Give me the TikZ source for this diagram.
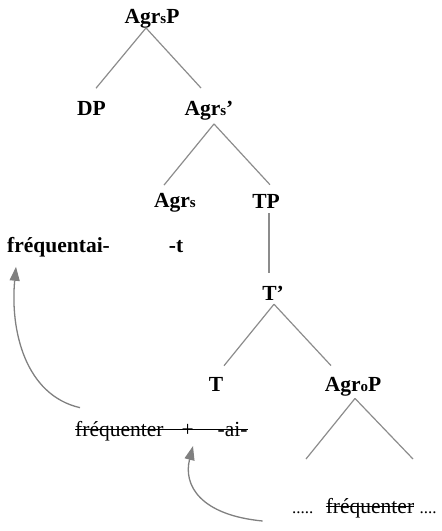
\documentclass[tikz,border=0pt]{standalone}
\usepackage{fontspec}
\setmainfont{Liberation Serif}
\usetikzlibrary{arrows.meta,positioning}
\newcommand{\agrsub}[1]{\raisebox{-0.5pt}{\fontsize{15}{15}\selectfont #1}}
\tikzset{
  lab/.style={font=\fontsize{21.5}{24}\selectfont\bfseries, inner sep=0pt, anchor=base},
  low/.style={font=\fontsize{21.5}{24}\selectfont, inner sep=0pt},
  dots/.style={font=\fontsize{17}{18}\selectfont, inner sep=0pt},
  branch/.style={draw=black!45, line width=1.2pt},
  strike/.style={draw=black, line width=0.9pt},
  move/.style={draw=black!50, line width=1.3pt, -{Triangle[length=14pt,width=10pt]}}
}
\begin{document}
\begin{tikzpicture}[x=1pt,y=-1pt]
  \useasboundingbox (0,0) rectangle (442,531);
  \node[lab] (agrsp) at (152,23) {Agr\agrsub{s}P};
  \node[lab] (dp) at (91.5,115) {DP};
  \node[lab] (agrsbar) at (209,115) {Agr\agrsub{s}'};
  \node[lab] (agrs) at (175,207) {Agr\agrsub{s}};
  \node[lab] (tp) at (266,208) {TP};
  \node[lab, anchor=base west] (fretai) at (7,252) {fréquentai-};
  \node[lab] (agrt) at (176,252) {-t};
  \node[lab] (tbar) at (273,300) {T'};
  \node[lab] (t) at (216,391) {T};
  \node[lab] (agrop) at (353,391) {Agr\agrsub{o}P};
  \coordinate (spec) at (306,459);
  \coordinate (comp) at (413,459);
  \draw[branch] ([xshift=-6pt]agrsp.south) -- ([xshift=4.5pt,yshift=12.5pt]dp.north);
  \draw[branch] ([xshift=-6pt]agrsp.south) -- ([xshift=-8pt,yshift=12.5pt]agrsbar.north);
  \draw[branch] ([xshift=5pt,yshift=-4pt]agrsbar.south) -- ([xshift=-11pt,yshift=7.5pt]agrs.north);
  \draw[branch] ([xshift=5pt,yshift=-4pt]agrsbar.south) -- ([xshift=4pt,yshift=9pt]tp.north);
  \draw[branch] ([xshift=3pt,yshift=-5pt]tp.south) -- ([xshift=-4pt,yshift=13pt]tbar.north);
  \draw[branch] ([xshift=1pt,yshift=-4pt]tbar.south) -- ([xshift=8pt,yshift=11pt]t.north);
  \draw[branch] ([xshift=1pt,yshift=-4pt]tbar.south) -- ([xshift=-22pt,yshift=11pt]agrop.north);
  \draw[branch] ([xshift=2pt,yshift=-2.5pt]agrop.south) -- (spec);
  \draw[branch] ([xshift=2pt,yshift=-2.5pt]agrop.south) -- (comp);
  \node[low, anchor=base west] (moved) at (75,436) {fréquenter\hspace{18pt}+\hspace{24pt}-ai-};
  \draw[strike] ([yshift=7pt]moved.base west) -- ([yshift=7pt]moved.base east);
  \node[low, anchor=base] (trace) at (370,513) {fréquenter};
  \draw[strike] ([yshift=7pt]trace.base west) -- ([yshift=7pt]trace.base east);
  \node[dots, left=12pt of trace.base west, anchor=base east] (dotsl) {.....};
  \node[dots, right=5pt of trace.base east, anchor=base west] (dotsr) {....};
  \draw[move] ([xshift=5pt,yshift=13pt]moved.north west) .. controls (25,395) and (10,330) .. ([xshift=9pt,yshift=-10pt]fretai.south west);
  \draw[move] ([xshift=-63pt,yshift=-8pt]trace.base west) .. controls (200,515) and (183,485) .. ([xshift=118pt,yshift=-10pt]moved.base west);
\end{tikzpicture}
\end{document}
